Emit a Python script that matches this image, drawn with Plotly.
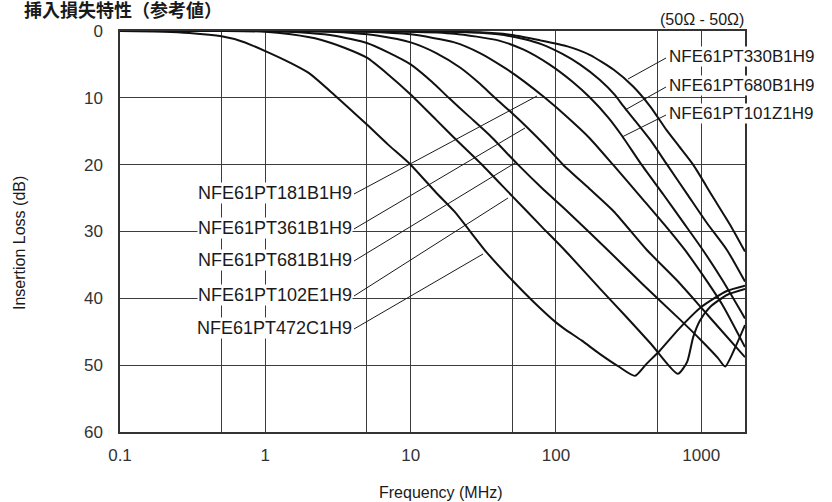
import plotly.graph_objects as go

# ---------------- data ----------------
names = ["NFE61PT472C1H9", "NFE61PT102E1H9", "NFE61PT681B1H9", "NFE61PT361B1H9",
         "NFE61PT181B1H9", "NFE61PT101Z1H9", "NFE61PT680B1H9", "NFE61PT330B1H9"]

freq_472C = [0.1, 0.2, 0.3, 0.5, 0.7, 1.0, 1.5, 2.0, 3.0, 5.0, 7.0, 10, 15, 20, 33, 50, 70, 100, 115, 150, 200, 270, 350, 420, 520, 700, 1000, 1500, 2000]
loss_472C = [0, 0.1, 0.3, 0.8, 1.6, 3.0, 4.8, 6.3, 9.6, 14.0, 17.0, 20.0, 24.2, 27.0, 33.0, 37.3, 40.5, 43.6, 44.6, 46.3, 48.3, 50.2, 51.6, 49.8, 47.8, 44.6, 41.3, 38.9, 38.1]

freq_102E = [0.1, 0.5, 1.0, 1.5, 2.4, 3.5, 5.0, 7.0, 10, 15, 20, 31, 50, 80, 115, 200, 300, 450, 690, 800, 880, 980, 1150, 1500, 2000]
loss_102E = [0, 0, 0.1, 0.5, 1.3, 2.5, 4.0, 6.5, 9.5, 13.3, 16.0, 20.0, 24.7, 29.3, 32.8, 38.5, 42.6, 46.8, 51.3, 49.5, 45.8, 43.3, 41.3, 39.5, 38.6]

freq_681B = [0.1, 1, 2, 3, 5, 7, 10, 14, 18.3, 25, 35, 54.8, 80, 120, 228, 400, 700, 1000, 1300, 1460, 1700, 2000]
loss_681B = [0, 0, 0.3, 0.7, 1.8, 3.2, 5.0, 7.6, 10.0, 12.7, 15.6, 20.0, 23.5, 27.0, 32.8, 38.0, 43.0, 46.3, 48.9, 50.2, 47.5, 44.0]

freq_361B = [0.1, 2, 4, 6, 10, 15, 22, 30, 38, 50, 64, 85, 112, 170, 250, 424, 700, 1000, 1400, 2000]
loss_361B = [0, 0, 0.3, 0.7, 1.7, 3.3, 5.5, 7.9, 10.0, 12.3, 14.5, 17.2, 20.0, 23.6, 27.0, 32.8, 37.6, 41.4, 45.0, 48.8]

freq_181B = [0.1, 5, 10, 20, 30, 45, 60, 84, 120, 170, 247, 400, 600, 774, 1000, 1400, 2000]
loss_181B = [0, 0.1, 0.5, 1.7, 3.3, 5.6, 7.5, 10.0, 12.9, 16.0, 20.0, 25.3, 29.8, 32.8, 36.2, 41.0, 47.3]

freq_101Z = [0.1, 10, 20, 40, 60, 90, 130, 172, 230, 283, 388, 550, 750, 1028, 1400, 2000]
loss_101Z = [0, 0.1, 0.4, 1.4, 2.8, 5.0, 7.6, 10.0, 13.0, 15.6, 20.0, 24.5, 28.6, 32.8, 37.3, 43.0]

freq_680B = [0.1, 20, 40, 60, 80, 110, 146, 200, 255, 290, 350, 446, 582, 800, 1100, 1506, 2000]
loss_680B = [0, 0.1, 0.5, 1.2, 2.0, 3.4, 5.0, 7.3, 9.6, 11.2, 13.4, 16.3, 20.0, 24.4, 28.8, 32.8, 37.5]

freq_330B = [0.1, 30, 50, 78, 120, 172, 250, 340, 446, 576, 700, 879, 1200, 1600, 2000]
loss_330B = [0, 0.2, 0.6, 1.4, 2.3, 3.6, 5.8, 8.3, 11.3, 14.8, 17.2, 20.0, 24.8, 29.2, 33.0]

x_tick_vals = [0.1, 0.5, 1, 5, 10, 50, 100, 500, 1000]
x_tick_text = ["0.1", "", "1", "", "10", "", "100", "", "1000"]
y_tick_vals = [0, 10, 20, 30, 40, 50, 60]

title_text = "挿入損失特性（参考値）"
impedance_text = "(50Ω - 50Ω)"
x_title = "Frequency (MHz)"
y_title = "Insertion Loss (dB)"

series = [(freq_472C, loss_472C), (freq_102E, loss_102E), (freq_681B, loss_681B),
          (freq_361B, loss_361B), (freq_181B, loss_181B), (freq_101Z, loss_101Z),
          (freq_680B, loss_680B), (freq_330B, loss_330B)]

# ---------------- layout geometry ----------------
W, H = 832, 502
L, R, T, B = 120, 745, 31, 432


def px(xp):
    return (xp - L) / (R - L)


def py(yp):
    return (B - yp) / (B - T)


FONT = "Liberation Sans, Arial, Helvetica, sans-serif"
INK = "#1a1a1a"
GRID = "#3c3c3c"

fig = go.Figure()
for (f, d), n in zip(series, names):
    fig.add_trace(go.Scatter(x=f, y=d, mode="lines", name=n,
                             line=dict(color="#111111", width=2, shape="spline", smoothing=0.6),
                             showlegend=False, hoverinfo="skip"))

# label placement (pixel layout constants)
left_labels = [  # name index, label y center, leader end
    (4, 193, (537, 96)),
    (3, 228, (525, 128)),
    (2, 260, (515, 163)),
    (1, 295, (508, 198)),
    (0, 328, (483, 254)),
]
right_labels = [
    (7, 56, (628, 79)),
    (6, 85, (625, 110)),
    (5, 113, (622, 137)),
]

shapes = []
annotations = []
for idx, yc, (ex, ey) in left_labels:
    annotations.append(dict(xref="paper", yref="paper", x=px(353), y=py(yc),
                            xanchor="right", yanchor="middle", text=names[idx],
                            showarrow=False, bgcolor="white", borderpad=0,
                            font=dict(family=FONT, size=18, color=INK)))
    shapes.append(dict(type="line", xref="paper", yref="paper",
                       x0=px(354), y0=py(yc + 1), x1=px(ex), y1=py(ey),
                       line=dict(color=INK, width=1)))
for idx, yc, (ex, ey) in right_labels:
    annotations.append(dict(xref="paper", yref="paper", x=px(668), y=py(yc),
                            xanchor="left", yanchor="middle", text=names[idx],
                            showarrow=False, bgcolor="white", borderpad=0,
                            font=dict(family=FONT, size=17, color=INK)))
    shapes.append(dict(type="line", xref="paper", yref="paper",
                       x0=px(666), y0=py(yc + 2), x1=px(ex), y1=py(ey),
                       line=dict(color=INK, width=1)))

annotations += [
    dict(xref="paper", yref="paper", x=px(746), y=py(19), xanchor="right", yanchor="middle",
         text=impedance_text, showarrow=False, font=dict(family=FONT, size=16, color=INK)),
    dict(xref="paper", yref="paper", x=px(441), y=py(492), xanchor="center", yanchor="middle",
         text=x_title, showarrow=False, font=dict(family=FONT, size=16, color=INK)),
    dict(xref="paper", yref="paper", x=px(20), y=py(243), xanchor="center", yanchor="middle",
         text=y_title, textangle=-90, showarrow=False, font=dict(family=FONT, size=16, color=INK)),
    dict(xref="paper", yref="paper", x=px(23), y=py(10.5), xanchor="left", yanchor="middle",
         text=title_text, showarrow=False, borderpad=0,
         font=dict(family="Liberation Sans, Noto Sans CJK JP, sans-serif", size=18,
                   color=INK, weight=700)),
]

fig.update_layout(
    width=W, height=H,
    margin=dict(l=L, r=W - R, t=T, b=H - B, pad=0),
    paper_bgcolor="white", plot_bgcolor="white",
    shapes=shapes, annotations=annotations,
)
fig.update_xaxes(type="log", range=[-1, 3.30103], tickvals=x_tick_vals, ticktext=x_tick_text,
                 showgrid=True, gridcolor=GRID, gridwidth=1.3, zeroline=False,
                 showline=True, linecolor="#333333", linewidth=1.5, mirror=True,
                 ticks="", ticklabelstandoff=7,
                 tickfont=dict(family=FONT, size=17, color="#333333"))
fig.update_yaxes(range=[60, 0], tickvals=y_tick_vals, showgrid=True, gridcolor=GRID, gridwidth=1.3,
                 zeroline=False, showline=True, linecolor="#333333", linewidth=1.5, mirror=True,
                 ticks="", ticklabelstandoff=12,
                 tickfont=dict(family=FONT, size=17, color="#333333"))

fig.write_html("out.html", config={"displayModeBar": False},
               post_script="document.body.style.margin='0';document.body.style.overflow='hidden';")
